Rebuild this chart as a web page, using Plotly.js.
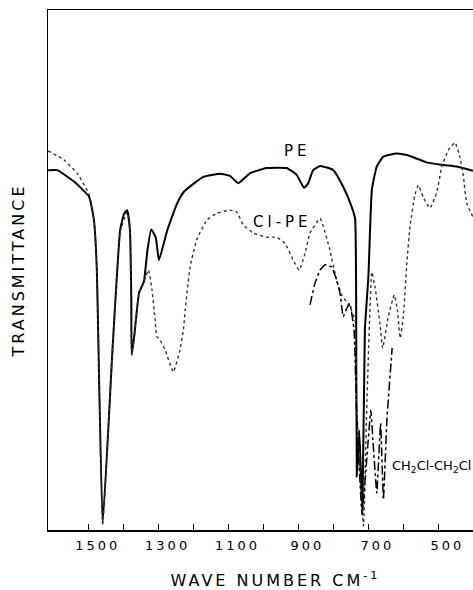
<!DOCTYPE html>
<html>
<head>
<meta charset="utf-8">
<script src="https://cdn.plot.ly/plotly-3.0.1.min.js"></script>
<style>
  html, body { margin: 0; padding: 0; background: #fff; }
  #chart { width: 473px; height: 590px; }
  .xtitle, .ytitle { letter-spacing: 3px; }
  .xtitle { transform: translate(15px, 0px); }
  .xtick text { letter-spacing: 3px; }
  .annotation[data-index="0"] text, .annotation[data-index="1"] text { letter-spacing: 4px; }
</style>
</head>
<body>
<div id="chart"></div>
<script>
// Polyethylene (PE) spectrum
const peWave = [1616, 1590, 1542, 1499, 1485, 1477, 1460, 1432, 1410, 1399, 1390, 1382, 1378, 1377, 1370, 1356, 1342, 1332, 1321, 1308, 1299, 1275, 1247, 1227, 1172, 1124, 1096, 1072, 1039, 991, 934, 905, 884, 872, 858, 838, 800, 772, 748, 738, 735, 733, 726, 717, 710, 700, 690, 676, 657, 619, 590, 533, 486, 447, 401];
const peT    = [69.2, 69.2, 67.0, 64.1, 59.6, 50.6, 1.2, 34.6, 57.7, 60.8, 61.5, 57.7, 44.2, 33.7, 37.1, 45.6, 47.8, 53.8, 57.8, 56.2, 51.9, 57.7, 62.8, 65.1, 67.9, 68.5, 68.1, 66.7, 68.6, 69.6, 69.6, 68.3, 65.8, 66.7, 69.2, 70.0, 69.2, 66.0, 62.2, 59.9, 45.0, 10.3, 19.2, 3.8, 38.5, 48.7, 65.4, 69.9, 71.8, 72.4, 72.1, 70.7, 70.2, 69.9, 69.1];

// Chlorinated polyethylene (Cl-PE) spectrum
const clpeWave = [1616, 1571, 1533, 1499, 1485, 1477, 1460, 1432, 1410, 1390, 1382, 1377, 1370, 1356, 1342, 1329, 1319, 1310, 1305, 1296, 1281, 1258, 1239, 1229, 1224, 1210, 1191, 1162, 1134, 1096, 1077, 1058, 1029, 991, 962, 938, 915, 898, 881, 867, 838, 810, 791, 776, 753, 738, 734, 730, 714, 704, 690, 681, 667, 659, 643, 626, 617, 609, 600, 590, 581, 567, 557, 543, 524, 505, 490, 471, 452, 438, 428, 419, 401];
const clpeT    = [72.9, 71.2, 68.6, 64.6, 59.6, 50.6, 1.2, 34.6, 57.3, 61.2, 57.3, 33.7, 36.9, 45.6, 47.7, 50.0, 46.2, 40.4, 37.2, 36.5, 34.6, 30.4, 34.6, 38.5, 42.3, 50.6, 55.8, 59.6, 60.9, 61.5, 61.2, 58.7, 57.1, 56.3, 56.3, 55.1, 51.9, 50.0, 53.2, 57.1, 59.9, 53.8, 48.1, 45.2, 42.9, 40.4, 25.0, 19.2, 0.8, 25.0, 49.6, 46.7, 39.8, 35.0, 41.0, 45.2, 42.3, 36.9, 41.0, 51.3, 58.3, 64.4, 66.3, 64.0, 61.9, 64.8, 69.8, 73.1, 74.5, 71.7, 67.9, 62.9, 60.2];

// 1,2-dichloroethane (CH2Cl-CH2Cl) spectrum
const dceWave = [867, 853, 838, 824, 805, 791, 781, 772, 762, 753, 741, 733, 718, 707, 693, 687, 676, 665, 657, 647, 632];
const dceT    = [43.3, 47.4, 50.0, 51.0, 50.6, 48.1, 45.5, 41.0, 42.6, 43.6, 38.5, 21.2, 2.9, 11.5, 23.1, 17.3, 7.1, 20.5, 5.8, 21.2, 35.0];

// Axis ticks: labelled values and unlabelled tick marks
const labelTicks = [1500, 1300, 1100, 900, 700, 500];
const plainTicks = [1400, 1200, 1000, 800, 600];

const traces = [
  { x: peWave, y: peT, name: 'PE', mode: 'lines', line: { color: '#000', width: 2, shape: 'spline', smoothing: 0.4 } },
  { x: clpeWave, y: clpeT, name: 'Cl-PE', mode: 'lines', line: { color: '#333', width: 1.4, dash: 'dot', shape: 'spline', smoothing: 0.4 } },
  { x: dceWave, y: dceT, name: 'CH2Cl-CH2Cl', mode: 'lines', line: { color: '#000', width: 1.5, dash: 'dashdot', shape: 'spline', smoothing: 0.3 } }
];

const fontFam = 'DejaVu Sans, sans-serif';
const layout = {
  width: 473, height: 590,
  margin: { l: 48, r: 0, t: 10, b: 60 },
  paper_bgcolor: '#fff', plot_bgcolor: '#fff',
  showlegend: false,
  font: { family: fontFam, color: '#000' },
  xaxis: {
    range: [1616.4, 400.7],
    showgrid: false, zeroline: false,
    showline: true, mirror: true, linecolor: '#000', linewidth: 1.5,
    ticks: 'inside', ticklen: 6, tickwidth: 1.5, tickcolor: '#000',
    tickmode: 'array', tickvals: labelTicks,
    minor: { tickmode: 'array', tickvals: plainTicks, ticks: 'inside', ticklen: 6, tickwidth: 1.5, tickcolor: '#000', showgrid: false },
    ticklabelshift: -9,
    ticklabelstandoff: 3,
    tickfont: { family: fontFam, size: 13, color: '#000' },
    title: { text: 'WAVE NUMBER CM<sup>-1</sup>', font: { family: fontFam, size: 16, color: '#000' }, standoff: 32 }
  },
  yaxis: {
    range: [0, 100],
    showgrid: false, zeroline: false,
    showline: true, linecolor: '#000', linewidth: 1.5,
    ticks: '', showticklabels: false,
    title: { text: 'TRANSMITTANCE', font: { family: fontFam, size: 16, color: '#000' }, standoff: 18 }
  },
  annotations: [
    { x: 903, y: 72.8, xref: 'x', yref: 'y', text: 'PE', showarrow: false, font: { family: fontFam, size: 15, color: '#000' } },
    { x: 946, y: 59.3, xref: 'x', yref: 'y', text: 'Cl-PE', showarrow: false, font: { family: fontFam, size: 15, color: '#000' } },
    { x: 638, y: 12.2, xref: 'x', yref: 'y', xanchor: 'left', text: 'CH<sub>2</sub>Cl-CH<sub>2</sub>Cl', showarrow: false, font: { family: fontFam, size: 13, color: '#000' } }
  ]
};

Plotly.newPlot('chart', traces, layout, { displayModeBar: false, staticPlot: true });
</script>
</body>
</html>
